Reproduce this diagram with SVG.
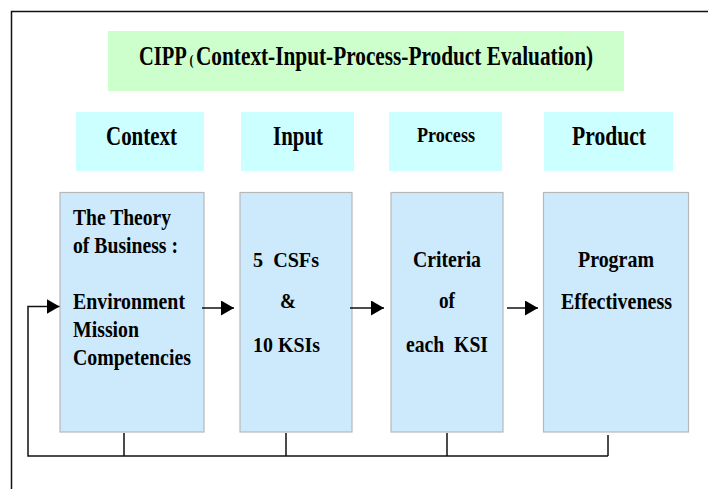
<svg xmlns="http://www.w3.org/2000/svg" width="708" height="489" viewBox="0 0 708 489">
<style>
text{font-family:"Liberation Serif",Tinos,"Times New Roman",serif;font-weight:bold;fill:#000}
.hdr{fill:#ccffff}
.big{fill:#cceafc;stroke:#b8b8b8;stroke-width:1.2}
.ln{fill:none;stroke:#111;stroke-width:1.5}
.f24{font-size:24px}
.f23{font-size:23px}
.f20{font-size:20px}
</style>
<defs>
<marker id="ah" markerUnits="userSpaceOnUse" markerWidth="14" markerHeight="16" refX="13" refY="7.5" orient="auto">
<path d="M0,0 L13,7.5 L0,15 Z" fill="#000"/>
</marker>
</defs>
<rect width="708" height="489" fill="#fff"/>
<path class="ln" d="M11.5,489 V11.5 H708"/>
<g id="title">
<rect x="108" y="31" width="516" height="60" fill="#ccffcc"/>
<g transform="translate(0,65) scale(1,1.3)">
<text x="139" y="0" font-size="20.5">CIPP</text>
<text x="189.5" y="0" font-size="12">(</text>
<text x="196" y="0" font-size="21.3">Context-Input-Process-Product Evaluation)</text>
</g>
</g>
<g id="h-context"><rect class="hdr" x="76" y="112" width="128" height="59"/><text x="106" y="145" font-size="27" textLength="71" lengthAdjust="spacingAndGlyphs">Context</text></g>
<g id="h-input"><rect class="hdr" x="241" y="112" width="113" height="59"/><text x="273" y="145" font-size="27" textLength="50" lengthAdjust="spacingAndGlyphs">Input</text></g>
<g id="h-process"><rect class="hdr" x="389" y="112" width="113" height="59"/><text x="417" y="142" font-size="22" textLength="58" lengthAdjust="spacingAndGlyphs">Process</text></g>
<g id="h-product"><rect class="hdr" x="544" y="112" width="129" height="59"/><text x="572" y="145" font-size="27" textLength="74" lengthAdjust="spacingAndGlyphs">Product</text></g>
<g id="n-context">
<rect class="big" x="60" y="192.5" width="144" height="239.5"/>
<text class="f24" x="73" y="225" textLength="98" lengthAdjust="spacingAndGlyphs">The Theory</text>
<text class="f24" x="73" y="253" textLength="105" lengthAdjust="spacingAndGlyphs">of Business :</text>
<text class="f24" x="73" y="309" textLength="112" lengthAdjust="spacingAndGlyphs">Environment</text>
<text class="f24" x="73" y="337" textLength="66" lengthAdjust="spacingAndGlyphs">Mission</text>
<text class="f24" x="73" y="365" textLength="118" lengthAdjust="spacingAndGlyphs">Competencies</text>
</g>
<g id="n-input">
<rect class="big" x="240" y="192.5" width="112" height="239.5"/>
<text class="f20" x="253" y="267" textLength="66" lengthAdjust="spacingAndGlyphs" xml:space="preserve">5  CSFs</text>
<text class="f20" x="280" y="308" textLength="16" lengthAdjust="spacingAndGlyphs">&amp;</text>
<text class="f20" x="253" y="352" textLength="67" lengthAdjust="spacingAndGlyphs">10 KSIs</text>
</g>
<g id="n-process">
<rect class="big" x="391" y="192.5" width="112" height="239.5"/>
<text class="f23" x="413" y="267" textLength="68" lengthAdjust="spacingAndGlyphs">Criteria</text>
<text class="f23" x="439" y="308" textLength="16" lengthAdjust="spacingAndGlyphs">of</text>
<text class="f23" x="406" y="352" textLength="82" lengthAdjust="spacingAndGlyphs" xml:space="preserve">each  KSI</text>
</g>
<g id="n-product">
<rect class="big" x="543.5" y="192.5" width="145" height="239.5"/>
<text class="f23" x="578" y="267" textLength="76" lengthAdjust="spacingAndGlyphs">Program</text>
<text class="f23" x="561" y="309" textLength="111" lengthAdjust="spacingAndGlyphs">Effectiveness</text>
</g>
<g id="connectors">
<path class="ln" d="M202,308 H234" marker-end="url(#ah)"/>
<path class="ln" d="M350,308 H384" marker-end="url(#ah)"/>
<path class="ln" d="M507,308 H538" marker-end="url(#ah)"/>
<path class="ln" d="M124,433 V456 M286,433 V456 M447,433 V456 M608,435 V456"/>
<path class="ln" d="M608,456 H28 V306.5 H59.5" marker-end="url(#ah)"/>
</g>
</svg>
